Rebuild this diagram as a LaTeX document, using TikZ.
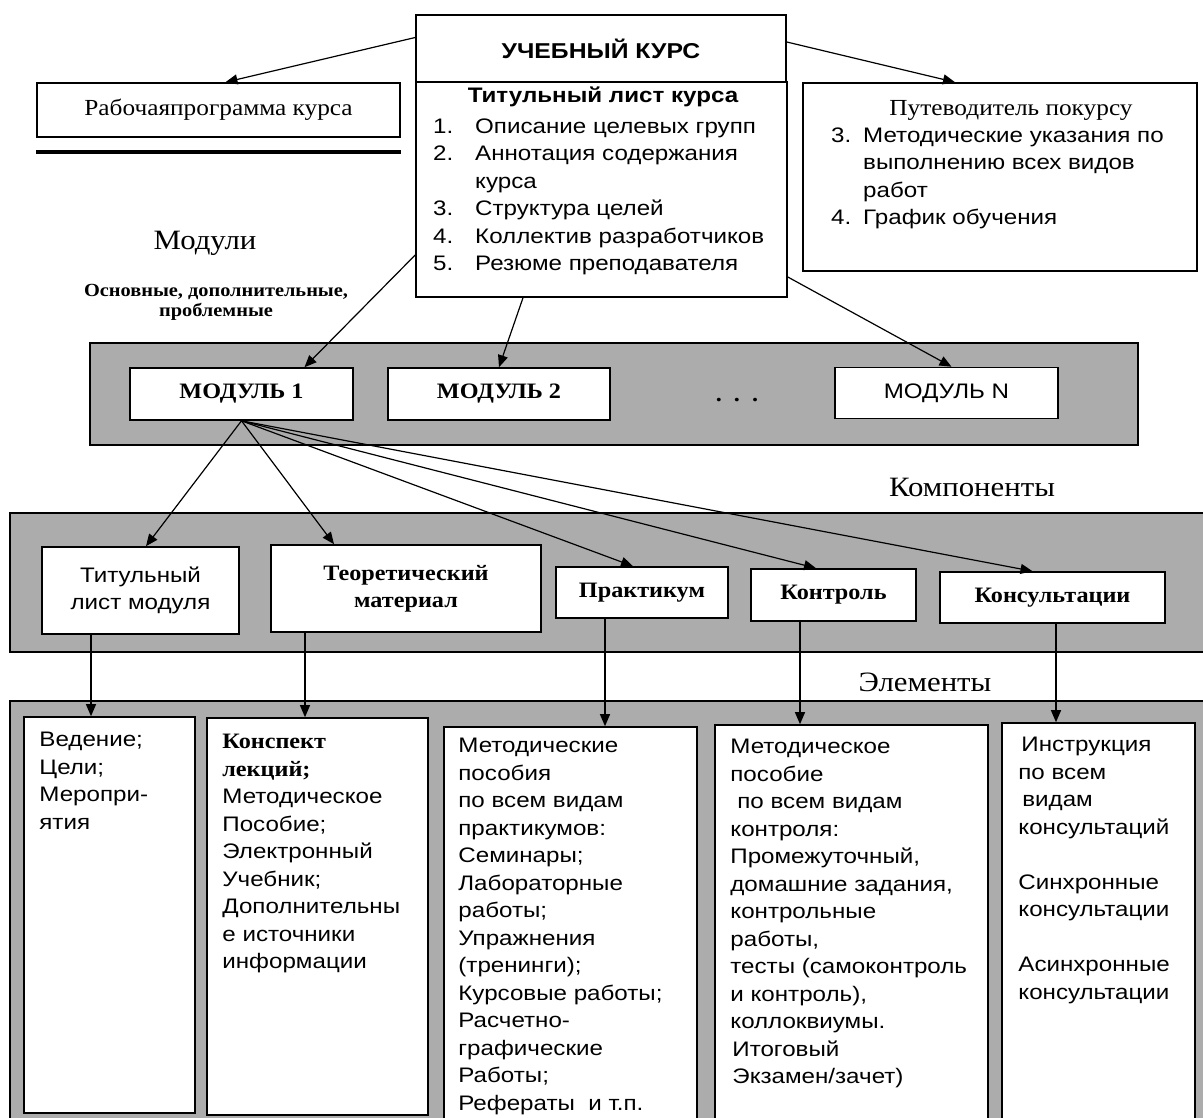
\documentclass[tikz,border=0pt]{standalone}
\usepackage{fontspec}
\setmainfont{Liberation Serif}[FakeStretch=1.1]
\setsansfont{Liberation Sans}[FakeStretch=1.15]
\usetikzlibrary{arrows.meta,positioning}
\definecolor{bandgray}{RGB}{172,172,172}
\newcommand{\fsans}{\sffamily\fontsize{21}{27.5}\selectfont}
\newcommand{\fsansb}{\sffamily\bfseries\fontsize{21}{27}\selectfont}
\newcommand{\fserif}{\rmfamily\fontsize{23}{27}\selectfont}
\newcommand{\fserifb}{\rmfamily\bfseries\fontsize{22}{27}\selectfont}
\newcommand{\fbig}{\rmfamily\fontsize{28}{32}\selectfont}

\begin{document}
\begin{tikzpicture}[x=1pt,y=-1pt,
  every node/.style={inner sep=0pt},
  box/.style={draw=black,line width=1.6pt,fill=white,align=center},
  band/.style={draw=black,line width=1.6pt,fill=bandgray},
  arr/.style={-{Triangle[length=12pt,width=10pt]},line width=1.2pt},
  txt/.style={align=left,anchor=north west}]
\useasboundingbox (0,0) rectangle (1203,1118);
\fill[white] (0,0) rectangle (1203,1118);

\node[band,minimum width=1048pt,minimum height=102pt] (modband) at (614,394) {};
\node[band,minimum width=1210pt,minimum height=139pt] (compband) at (615,582.5) {};
\node[band,minimum width=1210pt,minimum height=440pt] (elband) at (615,921) {};

\node[box,minimum width=370pt,minimum height=67pt,font=\sffamily\bfseries\fontsize{21.5}{26}\selectfont] (kurs) at (601,48.5) {УЧЕБНЫЙ КУРС};
\node[box,minimum width=371pt,minimum height=215pt] (titul) at (601.5,189.5) {};
\node[font=\fsansb] (titulhead) at (603,97) {Титульный лист курса};
\node[txt,font=\fsans] (titullist) at (433,114) {\begin{tabular}{@{}p{42pt}@{}l@{}}1.&Описание целевых групп\\ 2.&Аннотация содержания\\ &курса\\ 3.&Структура целей\\ 4.&Коллектив разработчиков\\ 5.&Резюме преподавателя\end{tabular}};

\node[box,minimum width=363pt,minimum height=54pt,font=\fserif] (rab) at (218.5,110) {Рабочаяпрограмма курса};
\draw[line width=4pt] ([yshift=-14pt]rab.south west) -- ([yshift=-14pt]rab.south east);

\node[box,minimum width=394pt,minimum height=188pt] (put) at (1000,177) {};
\node[font=\fserif] (puthead) at (1011,110) {Путеводитель покурсу};
\node[txt,font=\fsans] (putlist) at (831,123) {\begin{tabular}{@{}p{32pt}@{}l@{}}3.&Методические указания по\\ &выполнению всех видов\\ &работ\\ 4.&График обучения\end{tabular}};

\node[font=\fbig] (modlabel) at (205,243) {Модули};
\node[font=\rmfamily\bfseries\fontsize{18.5}{20}\selectfont,align=center] (modkinds) at (216,302) {Основные, дополнительные,\\ проблемные};

\node[box,minimum width=223pt,minimum height=52pt,font=\fserifb] (mod1) at (241.5,394) {МОДУЛЬ 1};
\node[box,minimum width=222pt,minimum height=52pt,font=\fserifb] (mod2) at (499,394) {МОДУЛЬ 2};
\node[font=\fserifb] (moddots) at (737,400) {.\hspace{12pt}.\hspace{12pt}.};
\node[box,minimum width=223pt,minimum height=51pt,font=\fsans] (modN) at (946.5,393) {МОДУЛЬ N};

\node[font=\fbig] (complabel) at (972,487) {Компоненты};
\node[box,minimum width=197pt,minimum height=87pt,font=\fsans] (ctitul) at (140.5,590.5) {Титульный\\ лист модуля};
\node[box,minimum width=270pt,minimum height=87pt,font=\fserifb] (cteor) at (406,588.5) {Теоретический\\ материал};
\node[box,minimum width=172pt,minimum height=51pt,font=\fserifb] (cprak) at (642,592.5) {Практикум};
\node[box,minimum width=165pt,minimum height=52pt,font=\fserifb] (ckontr) at (833.5,595) {Контроль};
\node[box,minimum width=225pt,minimum height=51pt,font=\fserifb] (ckons) at (1052.5,597.5) {Консультации};

\node[font=\fbig] (ellabel) at (925,682) {Элементы};
\node[box,minimum width=171pt,minimum height=396pt] (etitul) at (109.5,915) {};
\node[box,minimum width=221pt,minimum height=397pt] (eteor) at (317.5,916.5) {};
\node[box,minimum width=253pt,minimum height=400pt] (eprak) at (570.5,927) {};
\node[box,minimum width=273pt,minimum height=400pt] (ekontr) at (851.5,925) {};
\node[box,minimum width=193pt,minimum height=402pt] (ekons) at (1098.5,924) {};

\node[txt,font=\fsans] (etitultext) at ([xshift=16pt,yshift=-16pt]etitul.north west) {Ведение;\\ Цели;\\ Меропри-\\ ятия};
\node[txt,font=\fsans] (eteortext) at ([xshift=16pt,yshift=-17pt]eteor.north west) {{\fserifb Конспект}\\ {\fserifb лекций;}\\ Методическое\\ Пособие;\\ Электронный\\ Учебник;\\ Дополнительны\\ е источники\\ информации};
\node[txt,font=\fsans] (epraktext) at ([xshift=15pt,yshift=-12pt]eprak.north west) {Методические\\ пособия\\ по всем видам\\ практикумов:\\ Семинары;\\ Лабораторные\\ работы;\\ Упражнения\\ (тренинги);\\ Курсовые работы;\\ Расчетно-\\ графические\\ Работы;\\ Рефераты\ \ и т.п.};
\node[txt,font=\fsans] (ekontrtext) at ([xshift=16pt,yshift=-15pt]ekontr.north west) {Методическое\\ пособие\\ \hspace{7pt}по всем видам\\ контроля:\\ Промежуточный,\\ домашние задания,\\ контрольные\\ работы,\\ тесты (самоконтроль\\ и контроль),\\ коллоквиумы.\\ \hspace{2pt}Итоговый\\ \hspace{2pt}Экзамен/зачет)};
\node[txt,font=\fsans] (ekonstext) at ([xshift=17pt,yshift=-15pt]ekons.north west) {\hspace{3pt}Инструкция\\ по всем\\ \hspace{4pt}видам\\ консультаций\\ \\ Синхронные\\ консультации\\ \\ Асинхронные\\ консультации};

\draw[arr] ([yshift=11pt]kurs.west) -- ([xshift=7pt]rab.north);
\draw[arr] ([yshift=6.5pt]kurs.east) -- ([xshift=-45pt]put.north);
\draw[arr] ([yshift=-65.5pt]titul.west) -- ([xshift=63pt]mod1.north);
\draw[arr] ([xshift=-78.5pt]titul.south) -- (mod2.north);
\draw[arr] ([yshift=-87.5pt]titul.east) -- ([xshift=5pt]modN.north);

\draw[arr] (mod1.south) -- ([xshift=5.5pt]ctitul.north);
\draw[arr] (mod1.south) -- ([xshift=-72pt]cteor.north);
\draw[arr] (mod1.south) -- ([xshift=-9pt]cprak.north);
\draw[arr] (mod1.south) -- ([xshift=-17.5pt]ckontr.north);
\draw[arr] (mod1.south) -- ([xshift=-20pt]ckons.north);

\coordinate (dtitul) at ([xshift=-49.5pt]ctitul.south);
\coordinate (dteor) at ([xshift=-101pt]cteor.south);
\coordinate (dprak) at ([xshift=-37pt]cprak.south);
\coordinate (dkontr) at ([xshift=-33.5pt]ckontr.south);
\coordinate (dkons) at ([xshift=3.5pt]ckons.south);
\draw[arr] (dtitul) -- (dtitul |- etitul.north);
\draw[arr] (dteor) -- (dteor |- eteor.north);
\draw[arr] (dprak) -- (dprak |- eprak.north);
\draw[arr] (dkontr) -- (dkontr |- ekontr.north);
\draw[arr] (dkons) -- (dkons |- ekons.north);
\end{tikzpicture}
\end{document}
